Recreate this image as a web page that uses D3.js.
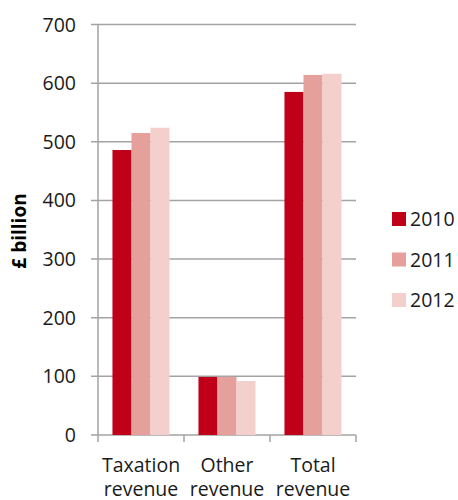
<!DOCTYPE html>
<html>
<head>
<meta charset="utf-8">
<script src="https://cdn.jsdelivr.net/npm/d3@7"></script>
<style>
  html, body { margin: 0; padding: 0; background: #fff; }
  svg { display: block; font-family: "Open Sans", "Noto Sans", sans-serif; }
</style>
</head>
<body>
<svg id="chart" width="458" height="500"></svg>
<script>
// Public sector revenue, £ billion
const categories = [["Taxation", "revenue"], ["Other", "revenue"], ["Total", "revenue"]];
const years = ["2010", "2011", "2012"];
const values2010 = [486, 99, 585];
const values2011 = [515, 99, 614];
const values2012 = [524, 92, 616];
const yTicks = [0, 100, 200, 300, 400, 500, 600, 700];
const colors = ["#c00018", "#e6a09b", "#f4d0cd"];

const series = [values2010, values2011, values2012];
const svg = d3.select("#chart");

const plotLeft = 98, plotRight = 356, plotTop = 24.5, plotBottom = 435;
const catKeys = categories.map(c => c.join(" "));

const x = d3.scaleBand().domain(catKeys).range([plotLeft, plotRight]).paddingInner(0).paddingOuter(0);
const inner = d3.scaleBand().domain(years).range([0, x.bandwidth()]).paddingInner(0).paddingOuter(0.76);
const y = d3.scaleLinear().domain([0, 700]).range([plotBottom, plotTop]);

const gridColor = "#a3a3a3";

// horizontal gridlines with short ticks left of the axis
const grid = svg.append("g");
grid.selectAll("line").data(yTicks).join("line")
  .attr("x1", plotLeft - 7).attr("x2", plotRight)
  .attr("y1", d => y(d)).attr("y2", d => y(d))
  .attr("stroke", gridColor).attr("stroke-width", 1.5);

// bars
const groups = svg.append("g").selectAll("g").data(catKeys).join("g")
  .attr("transform", d => `translate(${x(d)},0)`);
groups.selectAll("rect")
  .data((d, i) => years.map((yr, j) => ({ yr, j, v: series[j][i] })))
  .join("rect")
  .attr("x", d => inner(d.yr))
  .attr("width", inner.bandwidth())
  .attr("y", d => y(d.v))
  .attr("height", d => y(0) - y(d.v))
  .attr("fill", d => colors[d.j]);

// y axis line
svg.append("line")
  .attr("x1", plotLeft).attr("x2", plotLeft)
  .attr("y1", plotTop).attr("y2", plotBottom + 7)
  .attr("stroke", gridColor).attr("stroke-width", 1.5);

// category separators below the baseline
const sepX = catKeys.map(k => x(k)).concat([plotRight]);
svg.append("g").selectAll("line").data(sepX.slice(1)).join("line")
  .attr("x1", d => d).attr("x2", d => d)
  .attr("y1", plotBottom).attr("y2", plotBottom + 7)
  .attr("stroke", gridColor).attr("stroke-width", 1.5);

// y tick labels
svg.append("g").selectAll("text").data(yTicks).join("text")
  .attr("x", 76).attr("y", d => y(d))
  .attr("dy", "0.36em")
  .attr("text-anchor", "end")
  .attr("font-size", 19.5)
  .attr("fill", "#1a1a1a")
  .text(d => d);

// category labels (two lines)
const catLabels = svg.append("g").selectAll("text").data(categories).join("text")
  .attr("text-anchor", "middle")
  .attr("font-size", 19.5)
  .attr("fill", "#1a1a1a")
  .attr("transform", (d, i) => `translate(${x(catKeys[i]) + x.bandwidth() / 2},472)`);
catLabels.selectAll("tspan").data(d => d).join("tspan")
  .attr("x", 0).attr("dy", (d, i) => i === 0 ? 0 : 24)
  .text(d => d);

// y axis title
svg.append("text")
  .attr("transform", "translate(26,231) rotate(-90)")
  .attr("text-anchor", "middle")
  .attr("font-size", 19)
  .attr("font-weight", "bold")
  .attr("fill", "#000")
  .text("£ billion");

// legend
const legend = svg.append("g").selectAll("g").data(years).join("g")
  .attr("transform", (d, i) => `translate(392,${212 + i * 40.5})`);
legend.append("rect")
  .attr("width", 14).attr("height", 14)
  .attr("fill", (d, i) => colors[i]);
legend.append("text")
  .attr("x", 18).attr("y", 7).attr("dy", "0.36em")
  .attr("font-size", 19.5)
  .attr("fill", "#1a1a1a")
  .text(d => d);
</script>
</body>
</html>
